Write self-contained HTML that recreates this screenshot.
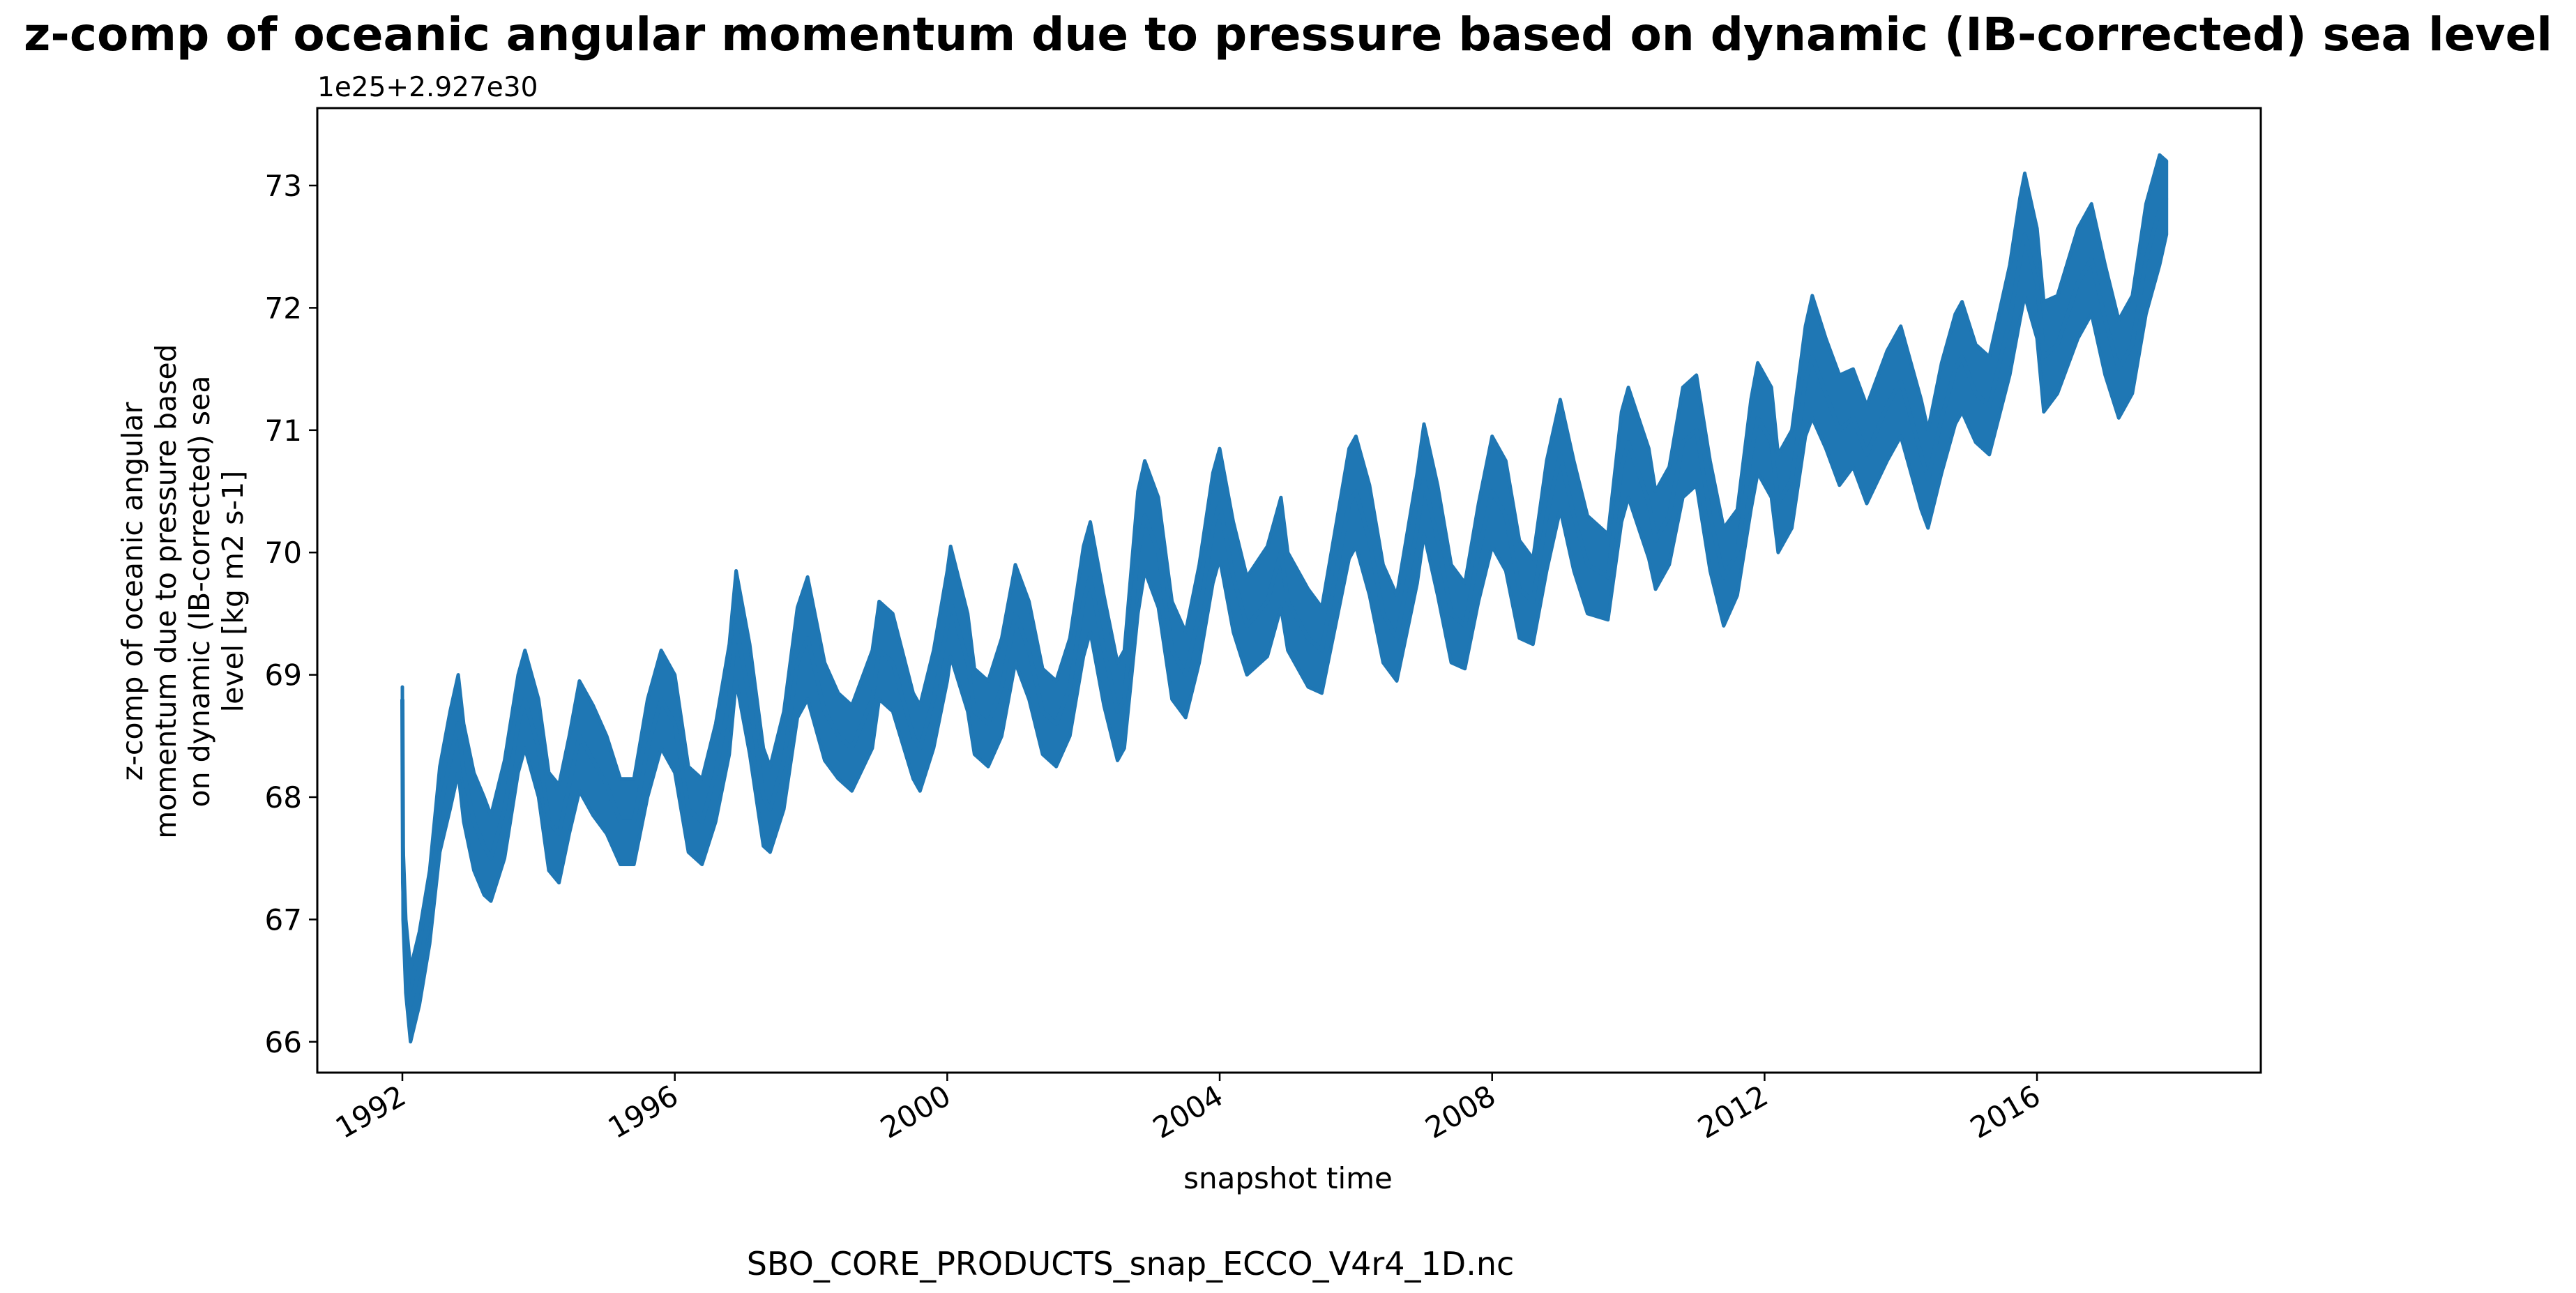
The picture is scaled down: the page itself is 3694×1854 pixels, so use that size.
<!DOCTYPE html>
<html><head><meta charset="utf-8"><style>
html,body{margin:0;padding:0;background:#fff}
svg{display:block}
text{font-family:"DejaVu Sans","Liberation Sans",sans-serif;fill:#000}
</style></head><body>
<svg id="chart" width="3694" height="1854" viewBox="0 0 3694 1854">
<text x="1847" y="72" font-size="66" font-weight="bold" text-anchor="middle">z-comp of oceanic angular momentum due to pressure based on dynamic (IB-corrected) sea level</text>
<text x="455" y="138" font-size="39">1e25+2.927e30</text>
<g id="plot"></g>
<g transform="translate(248,848) rotate(-90)">
<text x="0" y="-44" font-size="41" text-anchor="middle">z-comp of oceanic angular</text>
<text x="0" y="4" font-size="41" text-anchor="middle">momentum due to pressure based</text>
<text x="0" y="52" font-size="41" text-anchor="middle">on dynamic (IB-corrected) sea</text>
<text x="0" y="100" font-size="41" text-anchor="middle">level [kg m2 s-1]</text>
</g>
<text x="1847" y="1704" font-size="42" text-anchor="middle">snapshot time</text>
<text x="1621" y="1828" font-size="46" text-anchor="middle">SBO_CORE_PRODUCTS_snap_ECCO_V4r4_1D.nc</text>
</svg>
<script>
const times=[1992.0,1992.01,1992.05,1992.12,1992.25,1992.4,1992.55,1992.7,1992.82,1992.9,1993.05,1993.2,1993.3,1993.5,1993.7,1993.8,1994.0,1994.15,1994.3,1994.45,1994.6,1994.8,1995.0,1995.2,1995.4,1995.6,1995.8,1996.0,1996.2,1996.4,1996.6,1996.8,1996.9,1997.1,1997.3,1997.4,1997.6,1997.8,1997.95,1998.2,1998.4,1998.6,1998.9,1999.0,1999.2,1999.5,1999.6,1999.8,2000.0,2000.05,2000.3,2000.4,2000.6,2000.8,2001.0,2001.2,2001.4,2001.6,2001.8,2002.0,2002.1,2002.3,2002.5,2002.6,2002.8,2002.9,2003.1,2003.3,2003.5,2003.7,2003.9,2004.0,2004.2,2004.4,2004.7,2004.9,2005.0,2005.3,2005.5,2005.7,2005.9,2006.0,2006.2,2006.4,2006.6,2006.9,2007.0,2007.2,2007.4,2007.6,2007.8,2008.0,2008.2,2008.4,2008.6,2008.8,2009.0,2009.2,2009.4,2009.7,2009.9,2010.0,2010.3,2010.4,2010.6,2010.8,2011.0,2011.2,2011.4,2011.6,2011.8,2011.9,2012.1,2012.2,2012.4,2012.6,2012.7,2012.9,2013.1,2013.3,2013.5,2013.8,2014.0,2014.3,2014.4,2014.6,2014.8,2014.9,2015.1,2015.3,2015.6,2015.75,2015.82,2016.0,2016.1,2016.3,2016.6,2016.8,2017.0,2017.2,2017.4,2017.6,2017.8,2017.9];
const values=[68.8,67.3,66.7,66.3,66.6,67.1,67.9,68.3,68.6,68.2,67.8,67.6,67.5,67.9,68.6,68.8,68.4,67.8,67.7,68.1,68.5,68.3,68.1,67.8,67.8,68.4,68.8,68.6,67.9,67.8,68.2,68.8,69.4,68.8,68.0,67.9,68.3,69.1,69.3,68.7,68.5,68.4,68.8,69.2,69.1,68.5,68.4,68.8,69.4,69.6,69.1,68.7,68.6,68.9,69.5,69.2,68.7,68.6,68.9,69.6,69.8,69.2,68.7,68.8,70.0,70.3,70.0,69.2,69.0,69.5,70.2,70.4,69.8,69.4,69.6,70.0,69.6,69.3,69.2,69.8,70.4,70.5,70.1,69.5,69.3,70.2,70.6,70.1,69.5,69.4,70.0,70.5,70.3,69.7,69.6,70.3,70.8,70.3,69.9,69.8,70.7,70.9,70.4,70.1,70.3,70.9,71.0,70.3,69.8,70.0,70.8,71.1,70.9,70.4,70.6,71.4,71.6,71.3,71.0,71.1,70.8,71.2,71.4,70.8,70.6,71.1,71.5,71.6,71.3,71.2,71.9,72.4,72.6,72.2,71.6,71.7,72.2,72.4,71.9,71.5,71.7,72.4,72.8,72.9];
const spread=[0.1,0.3,0.3,0.3,0.3,0.3,0.35,0.4,0.4,0.4,0.4,0.4,0.35,0.4,0.4,0.4,0.4,0.4,0.4,0.4,0.45,0.45,0.4,0.35,0.35,0.4,0.4,0.4,0.35,0.35,0.4,0.45,0.45,0.45,0.4,0.35,0.4,0.45,0.5,0.4,0.35,0.35,0.4,0.4,0.4,0.35,0.35,0.4,0.45,0.45,0.4,0.35,0.35,0.4,0.4,0.4,0.35,0.35,0.4,0.45,0.45,0.45,0.4,0.4,0.5,0.45,0.45,0.4,0.35,0.4,0.45,0.45,0.45,0.4,0.45,0.45,0.4,0.4,0.35,0.4,0.45,0.45,0.45,0.4,0.35,0.45,0.45,0.45,0.4,0.35,0.4,0.45,0.45,0.4,0.35,0.45,0.45,0.45,0.4,0.35,0.45,0.45,0.45,0.4,0.4,0.45,0.45,0.45,0.4,0.35,0.45,0.45,0.45,0.4,0.4,0.45,0.5,0.45,0.45,0.4,0.4,0.45,0.45,0.45,0.4,0.45,0.45,0.45,0.4,0.4,0.45,0.5,0.5,0.45,0.45,0.4,0.45,0.45,0.45,0.4,0.4,0.45,0.45,0.3];
const yTicks=[66,67,68,69,70,71,72,73];
const xTicks=[1992,1996,2000,2004,2008,2012,2016];
const NS='http://www.w3.org/2000/svg';
const L=455,R=3242,T=155,B=1538;
function xs(t){return 577+(t-1992)*97.67;}
function ys(v){return 266+(73-v)*175.4;}
const plot=document.getElementById('plot');
function mk(tag,attrs){const e=document.createElementNS(NS,tag);for(const k in attrs)e.setAttribute(k,attrs[k]);return e;}
let up=[],dn=[];
for(let i=0;i<times.length;i++){up.push(xs(times[i]).toFixed(1)+','+ys(values[i]+spread[i]).toFixed(1));dn.unshift(xs(times[i]).toFixed(1)+','+ys(values[i]-spread[i]).toFixed(1));}
const band=mk('polygon',{points:up.concat(dn).join(' '),fill:'#1f77b4',stroke:'#1f77b4','stroke-width':5,'stroke-linejoin':'round'});


plot.appendChild(band);
const line=mk('polyline',{points:times.map((t,i)=>xs(t).toFixed(1)+','+ys(values[i]).toFixed(1)).join(' '),fill:'none',stroke:'#1f77b4','stroke-width':6,'stroke-linejoin':'round'});


plot.appendChild(line);
const frame=mk('rect',{x:L,y:T,width:R-L,height:B-T,fill:'none',stroke:'#000','stroke-width':3});


plot.appendChild(frame);
yTicks.forEach(v=>{
 const y=ys(v);
 const tk=mk('line',{x1:L-12,x2:L,y1:y,y2:y,stroke:'#000','stroke-width':2.5});
 
 
 plot.appendChild(tk);
 const tx=mk('text',{x:L-22,y:y+15,'font-size':42,'text-anchor':'end'});
 tx.textContent=v;
 
 
 plot.appendChild(tx);
});
xTicks.forEach(v=>{
 const x=xs(v);
 const tk=mk('line',{x1:x,x2:x,y1:B,y2:B+12,stroke:'#000','stroke-width':2.5});
 
 
 plot.appendChild(tk);
 const tx=mk('text',{x:0,y:0,'font-size':42,'text-anchor':'end',transform:'translate('+(x+8)+','+(B+42)+') rotate(-30)'});
 tx.textContent=v;
 
 
 plot.appendChild(tx);
});
</script>
</body></html>
